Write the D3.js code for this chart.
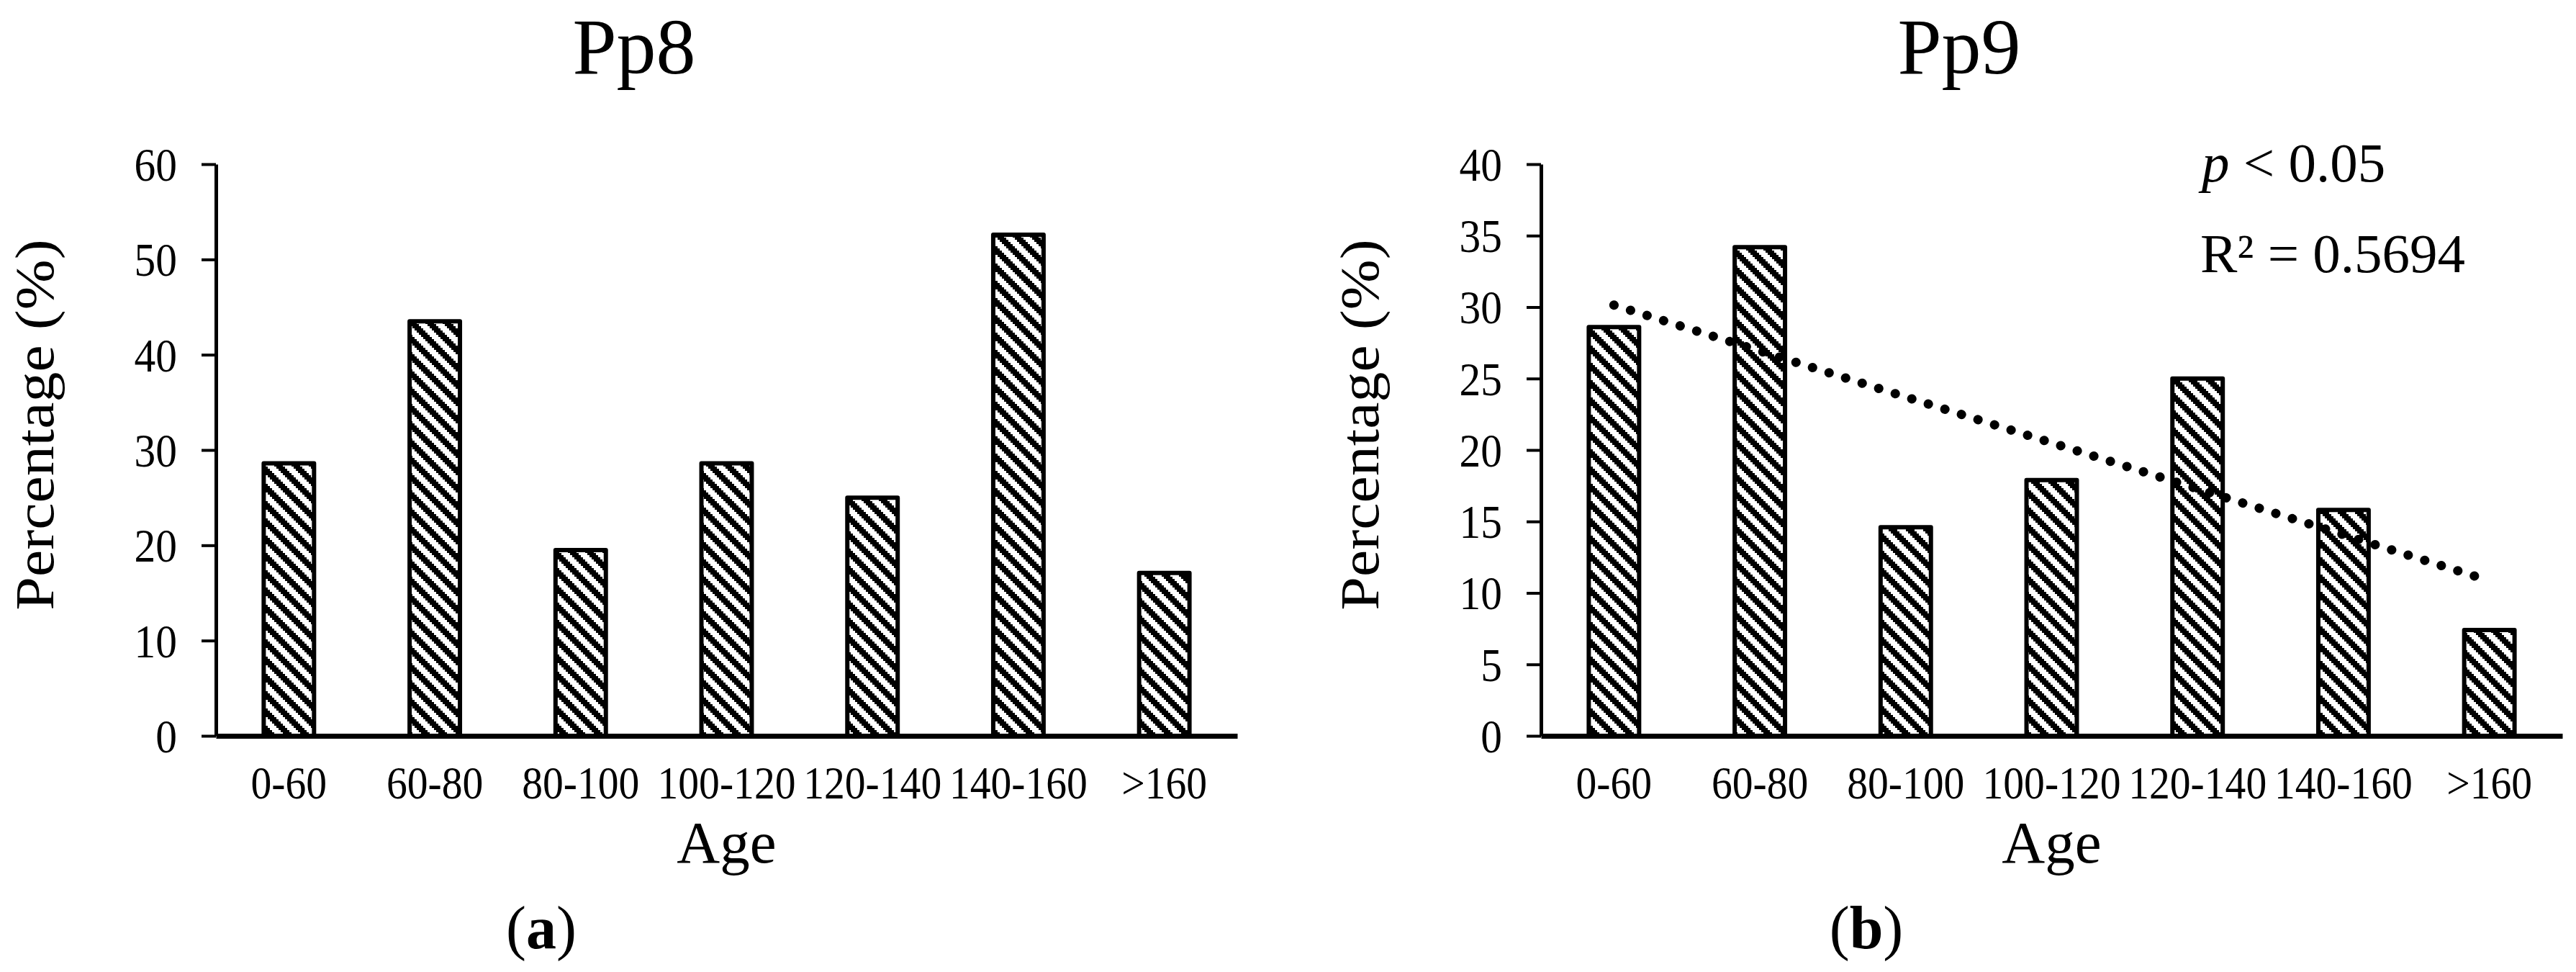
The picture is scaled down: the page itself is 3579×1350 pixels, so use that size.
<!DOCTYPE html>
<html>
<head>
<meta charset="utf-8">
<script src="https://cdn.jsdelivr.net/npm/d3@7"></script>
<style>
  body { margin: 0; background: #fff; }
  svg text { font-family: "Liberation Serif", "Times New Roman", serif; fill: #000; }
</style>
</head>
<body>
<div id="chart"></div>
<script>
var categories = ['0-60', '60-80', '80-100', '100-120', '120-140', '140-160', '>160']
var pp8Values = [28.6, 43.5, 19.5, 28.6, 25.0, 52.6, 17.1]
var pp9Values = [28.6, 34.2, 14.6, 17.9, 25.0, 15.8, 7.4]
var pp8Ticks = [0, 10, 20, 30, 40, 50, 60]
var pp9Ticks = [0, 5, 10, 15, 20, 25, 30, 35, 40]
var pp9Stats = ['< 0.05', 'R\u00b2 = 0.5694']

var W = 3579, H = 1350
var plotTop = 228, plotH = 794, plotW = 1419

var svg = d3.select('#chart').append('svg').attr('width', W).attr('height', H)
svg.append('rect').attr('width', W).attr('height', H).attr('fill', '#fff')

// stepped "wide downward diagonal" fill, 8x8 cells blown up 3x
var pat = svg.append('defs').append('pattern')
  .attr('id', 'hatch').attr('patternUnits', 'userSpaceOnUse')
  .attr('width', 24).attr('height', 24)
pat.append('rect').attr('width', 24).attr('height', 24).attr('fill', '#fff')
d3.range(8).forEach(function(r){
  d3.range(8).forEach(function(c){
    if ((c - r + 8) % 8 < 4) {
      pat.append('rect').attr('x', c * 3).attr('y', r * 3).attr('width', 3).attr('height', 3)
        .attr('fill', '#000').attr('shape-rendering', 'crispEdges')
    }
  })
})

function drawPanel(left, values, ticks, title, tag, trend){
  var g = svg.append('g').attr('transform', 'translate(' + left + ',' + plotTop + ')')

  var x = d3.scaleBand().domain(categories).range([0, plotW])
  var y = d3.scaleLinear().domain([0, d3.max(ticks)]).range([plotH, 0])
  var bw = x.bandwidth() * 0.345

  g.selectAll('rect.bar').data(values).enter().append('rect')
    .attr('class', 'bar')
    .attr('x', function(d, i){ return x(categories[i]) + (x.bandwidth() - bw) / 2 })
    .attr('y', function(d){ return y(d) })
    .attr('width', bw)
    .attr('height', function(d){ return plotH - y(d) })
    .attr('fill', 'url(#hatch)')
    .attr('stroke', '#000').attr('stroke-width', 6).attr('stroke-linejoin', 'round')

  // y axis
  var ya = g.append('g').call(d3.axisLeft(y).tickValues(ticks).tickSize(20).tickSizeOuter(0).tickPadding(40))
  ya.select('.domain').attr('stroke-width', 5)
  ya.selectAll('.tick line').attr('stroke-width', 4)
  ya.selectAll('.tick text').attr('font-size', 66).attr('dy', '0.34em')
    .attr('transform', 'scale(0.9,1)')

  // x axis
  var xa = g.append('g').attr('transform', 'translate(0,' + plotH + ')')
    .call(d3.axisBottom(x).tickSize(0).tickSizeOuter(0))
  xa.select('.domain').attr('stroke-width', 7)
  xa.selectAll('.tick text').attr('font-size', 64).attr('y', 87).attr('dy', 0)
    .attr('transform', 'scale(0.9,1)')

  if (trend) {
    var xs = values.map(function(d, i){ return i + 1 })
    var mx = d3.mean(xs), my = d3.mean(values)
    var b = d3.sum(xs, function(v, i){ return (v - mx) * (values[i] - my) }) /
            d3.sum(xs, function(v){ return (v - mx) * (v - mx) })
    var a = my - b * mx
    var ends = [0, categories.length - 1]
    g.append('path')
      .attr('d', d3.line()(ends.map(function(i){
        return [x(categories[i]) + x.bandwidth() / 2, y(a + b * (i + 1))]
      })))
      .attr('fill', 'none').attr('stroke', '#000').attr('stroke-width', 13)
      .attr('stroke-linecap', 'round').attr('stroke-dasharray', '0.1 24')

    var st = g.append('text').attr('x', 918).attr('y', 252 - plotTop).attr('font-size', 77)
    st.append('tspan').attr('font-style', 'italic').text('p')
    st.append('tspan').text(' ' + pp9Stats[0])
    g.append('text').attr('x', 916).attr('y', 378 - plotTop).attr('font-size', 77).text(pp9Stats[1])
  }

  // titles and labels
  g.append('text').attr('x', 581).attr('y', 102 - plotTop).attr('text-anchor', 'middle')
    .attr('font-size', 110).text(title)
  g.append('text').attr('x', plotW / 2).attr('y', 1198 - plotTop).attr('text-anchor', 'middle')
    .attr('font-size', 83).text('Age')
  g.append('text')
    .attr('transform', 'translate(-226,' + (590 - plotTop) + ') rotate(-90) scale(1,0.9)')
    .attr('text-anchor', 'middle').attr('font-size', 84).text('Percentage (%)')
  var lab = g.append('text').attr('x', 452).attr('y', 1317 - plotTop).attr('text-anchor', 'middle')
    .attr('font-size', 84)
  lab.append('tspan').text('(')
  lab.append('tspan').attr('font-weight', 'bold').text(tag)
  lab.append('tspan').text(')')
}

drawPanel(300, pp8Values, pp8Ticks, 'Pp8', 'a', false)
drawPanel(2141, pp9Values, pp9Ticks, 'Pp9', 'b', true)
</script>
</body>
</html>
